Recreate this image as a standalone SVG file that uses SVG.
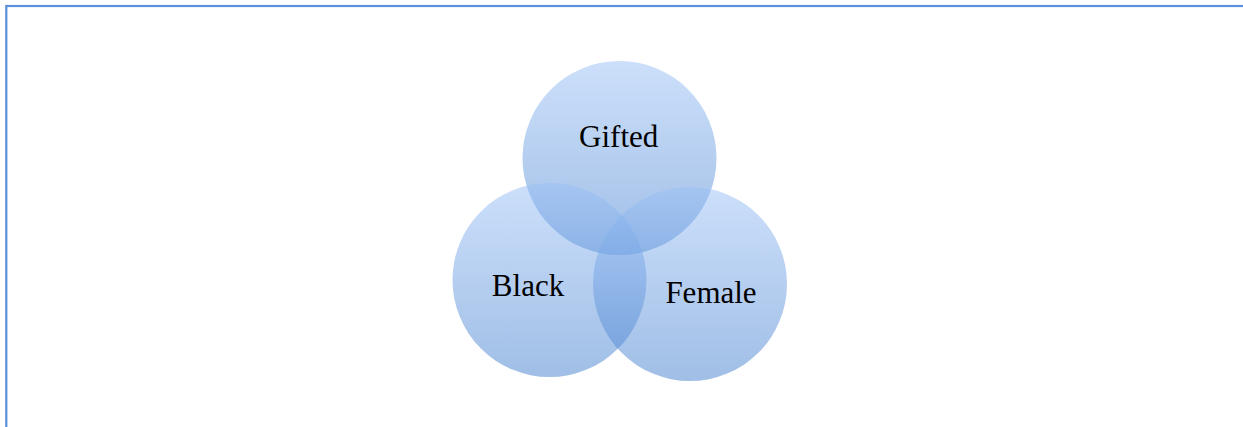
<svg xmlns="http://www.w3.org/2000/svg" width="1243" height="427" viewBox="0 0 1243 427">
  <style>
    .frame { fill: none; stroke: #5a90dc; stroke-width: 2.2; }
    .circle { fill: url(#vennGrad); }
    .label { font-family: "Liberation Serif", "Times New Roman", serif; font-size: 31px; fill: #000000; text-anchor: middle; }
  </style>
  <defs>
    <linearGradient id="vennGrad" x1="0" y1="0" x2="0" y2="1">
      <stop offset="0" stop-color="#99c0f6" stop-opacity="0.5"/>
      <stop offset="1" stop-color="#417dcd" stop-opacity="0.5"/>
    </linearGradient>
  </defs>
  <rect x="0" y="0" width="1243" height="427" fill="#ffffff"/>
  <rect class="frame" x="6.3" y="6" width="1400" height="600"/>
  <g id="connectors"></g>
  <g id="node-gifted">
    <circle class="circle" cx="619.5" cy="158" r="97"/>
    <text class="label" x="618.7" y="147">Gifted</text>
  </g>
  <g id="node-black">
    <circle class="circle" cx="549.5" cy="280" r="97"/>
    <text class="label" x="528" y="296">Black</text>
  </g>
  <g id="node-female">
    <circle class="circle" cx="690" cy="284" r="97"/>
    <text class="label" x="711" y="302.5">Female</text>
  </g>
</svg>
